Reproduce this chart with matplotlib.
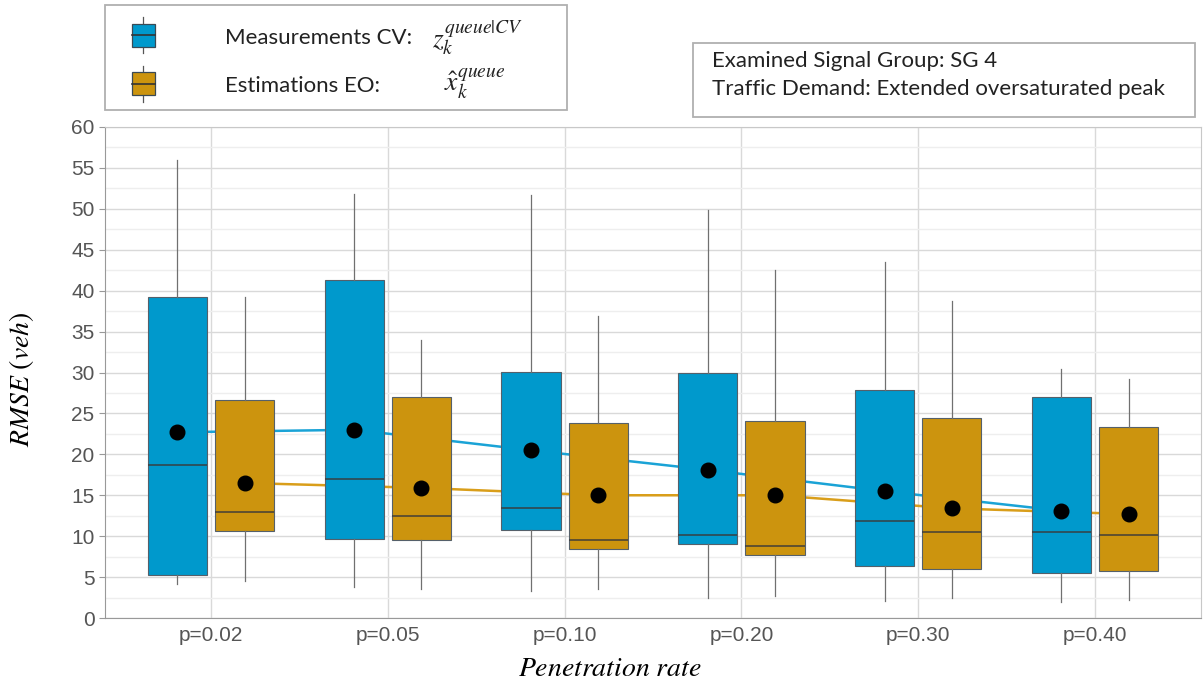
import matplotlib
matplotlib.use('Agg')
from matplotlib import pyplot as plt
from matplotlib.patches import Rectangle
from matplotlib.lines import Line2D
import numpy as np

# Data
categories = ['p=0.02', 'p=0.05', 'p=0.10', 'p=0.20', 'p=0.30', 'p=0.40']

cv_whislo = [4.2, 3.8, 3.3, 2.4, 2.1, 1.9]
cv_q1 = [5.2, 9.7, 10.8, 9.1, 6.3, 5.5]
cv_med = [18.7, 17.0, 13.4, 10.2, 11.8, 10.5]
cv_q3 = [39.2, 41.3, 30.1, 29.9, 27.9, 27.0]
cv_whishi = [56.0, 51.8, 51.7, 49.8, 43.5, 30.4]
cv_mean = [22.7, 23.0, 20.5, 18.1, 15.5, 13.1]

eo_whislo = [4.5, 3.5, 3.5, 2.7, 2.5, 2.2]
eo_q1 = [10.6, 9.5, 8.4, 7.7, 6.0, 5.8]
eo_med = [13.0, 12.5, 9.5, 8.8, 10.5, 10.2]
eo_q3 = [26.6, 27.0, 23.8, 24.1, 24.4, 23.4]
eo_whishi = [39.2, 34.0, 36.9, 42.5, 38.7, 29.2]
eo_mean = [16.5, 15.9, 15.0, 15.0, 13.4, 12.7]

BLUE = '#0099cc'
GOLD = '#cc940e'
BLUE_LINE = '#1aa3d6'
GOLD_LINE = '#d99e1a'

W, H = 1203, 684


def fx(px):
    return px / W


def fy(py):
    return 1 - py / H


fig = plt.figure(figsize=(W / 100, H / 100), dpi=100)
ax = fig.add_axes([fx(105), fy(618), fx(1201) - fx(105), fy(127) - fy(618)])


def make_stats(lo, q1, med, q3, hi):
    return [dict(whislo=a, q1=b, med=c, q3=d, whishi=e, fliers=[])
            for a, b, c, d, e in zip(lo, q1, med, q3, hi)]


x = np.arange(1, len(categories) + 1)
off = 0.19
bw = 0.335

for stats, pos, col in [
        (make_stats(cv_whislo, cv_q1, cv_med, cv_q3, cv_whishi), x - off, BLUE),
        (make_stats(eo_whislo, eo_q1, eo_med, eo_q3, eo_whishi), x + off, GOLD)]:
    ax.bxp(stats, positions=pos, widths=bw, patch_artist=True,
           showcaps=False, showfliers=False,
           boxprops=dict(facecolor=col, edgecolor='#55606a', linewidth=0.8),
           medianprops=dict(color='#3a3a3a', linewidth=1.3, alpha=0.8),
           whiskerprops=dict(color='#707070', linewidth=0.9),
           zorder=3)

# mean lines (behind boxes) and mean dots
ax.plot(x - off, cv_mean, color=BLUE_LINE, lw=1.8, zorder=2)
ax.plot(x + off, eo_mean, color=GOLD_LINE, lw=1.8, zorder=2)
ax.plot(x - off, cv_mean, 'o', color='black', ms=10.5, zorder=5)
ax.plot(x + off, eo_mean, 'o', color='black', ms=10.5, zorder=5)

ax.set_xlim(0.4, 6.6)
ax.set_ylim(0, 60)
ax.set_yticks(np.arange(0, 61, 5))
ax.set_yticks(np.arange(2.5, 60, 5), minor=True)
ax.set_xticks(x)
ax.set_xticklabels(categories)
ax.grid(True, which='major', color='#d9d9d9', lw=1.0, zorder=0)
ax.grid(True, which='minor', axis='y', color='#eeeeee', lw=1.0, zorder=0)
ax.set_axisbelow(True)
ax.tick_params(axis='both', which='major', labelsize=15, labelcolor='#555555',
               color='#999999', length=4)
ax.tick_params(axis='x', which='major', length=0, pad=6)
ax.tick_params(axis='y', which='minor', length=0)
for lab in ax.get_xticklabels() + ax.get_yticklabels():
    lab.set_family('Liberation Sans')
for side in ['left', 'bottom']:
    ax.spines[side].set_color('#999999')
for side in ['top', 'right']:
    ax.spines[side].set_color('#c8c8c8')

ax.set_ylabel('$RMSE\\ (veh)$', fontsize=20)
ax.set_xlabel('$Penetration\\ rate$', fontsize=20)
ax.yaxis.label.set_math_fontfamily('stix')
ax.xaxis.label.set_math_fontfamily('stix')
ax.yaxis.set_label_coords(-0.076, 0.487)
ax.xaxis.set_label_coords(0.461, -0.102)
ax.yaxis.label.set_va('center')
ax.xaxis.label.set_va('center')

# legend box
fig.patches.append(Rectangle((fx(105), fy(110)), fx(567) - fx(105), fy(5) - fy(110),
                             transform=fig.transFigure, facecolor='white',
                             edgecolor='#b0b0b0', lw=1.3))
for cy, col in [(35, BLUE), (83.5, GOLD)]:
    fig.add_artist(Line2D([fx(143), fx(143)], [fy(cy - 18), fy(cy + 18)],
                          transform=fig.transFigure, color='#555555', lw=0.9))
    fig.patches.append(Rectangle((fx(132), fy(cy + 11.5)), fx(23), fy(0) - fy(23),
                                 transform=fig.transFigure, facecolor=col,
                                 edgecolor='#3a4a55', lw=0.9, zorder=3))
    fig.add_artist(Line2D([fx(132), fx(155)], [fy(cy), fy(cy)],
                          transform=fig.transFigure, color='#333333', lw=1.2,
                          zorder=4))

fig.text(fx(225), fy(38), 'Measurements CV:', fontsize=16, family='Lato',
         va='center', color='#222222')
fig.text(fx(225), fy(86), 'Estimations EO:', fontsize=16, family='Lato',
         va='center', color='#222222')
fig.text(fx(432), fy(38), '$z_k^{queue|CV}$', fontsize=20, va='center',
         math_fontfamily='stix', color='#222222')
fig.text(fx(444), fy(84), '$\\hat{x}_k^{queue}$', fontsize=20, va='center',
         math_fontfamily='stix', color='#222222')

# info box
fig.patches.append(Rectangle((fx(693), fy(117)), fx(1195) - fx(693), fy(43) - fy(117),
                             transform=fig.transFigure, facecolor='white',
                             edgecolor='#b0b0b0', lw=1.3))
fig.text(fx(712), fy(61), 'Examined Signal Group: SG 4', fontsize=16,
         family='Lato', va='center', color='#222222')
fig.text(fx(712), fy(89), 'Traffic Demand: Extended oversaturated peak',
         fontsize=16, family='Lato', va='center', color='#222222')

fig.savefig('out.png', dpi=100)
